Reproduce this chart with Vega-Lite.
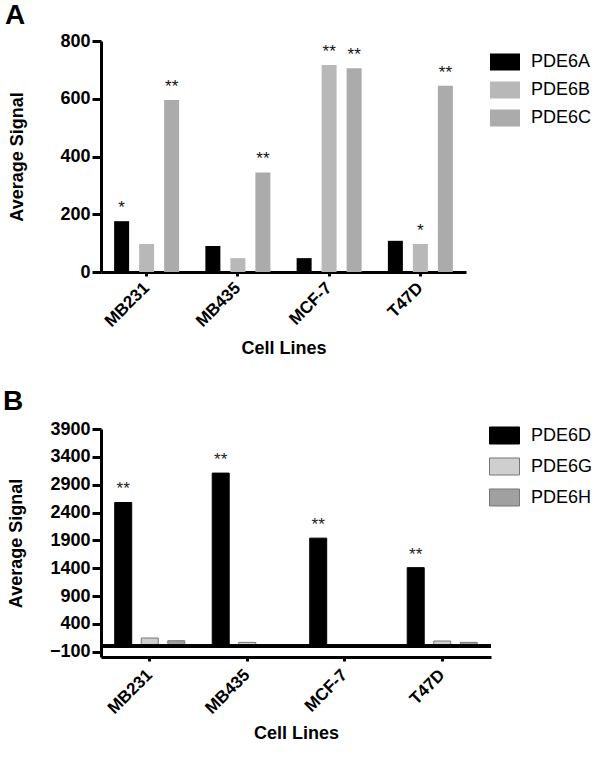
{
  "$schema": "https://vega.github.io/schema/vega-lite/v6.json",
  "background": "white",
  "padding": {"left": 3, "top": 2, "right": 5, "bottom": 3},
  "spacing": 30,
  "config": {
    "font": "Liberation Sans",
    "view": {"stroke": null},
    "axis": {
      "domainColor": "black", "domainWidth": 3, "tickColor": "black", "tickWidth": 3,
      "labelColor": "black", "labelFont": "Liberation Sans", "labelFontWeight": "bold", "labelFontSize": 18,
      "titleFont": "Liberation Sans", "titleFontWeight": "bold", "titleColor": "black", "titleFontSize": 18,
      "grid": false
    },
    "legend": {
      "title": null, "labelFont": "Liberation Sans", "labelFontSize": 18, "labelColor": "black",
      "labelFontWeight": "normal", "symbolType": "M-1,-0.567L1,-0.567L1,0.567L-1,0.567Z",
      "symbolSize": 900, "labelOffset": 11, "rowPadding": 4, "orient": "none"
    }
  },
  "resolve": {"scale": {"fill": "independent", "stroke": "independent", "xOffset": "independent", "x": "independent", "y": "independent"}, "legend": {"fill": "independent", "stroke": "independent"}},
  "vconcat": [
    {
      "title": {"text": "A", "anchor": "start", "frame": "group", "fontSize": 28, "fontWeight": "bold", "font": "Liberation Sans", "dx": -96, "offset": 2, "color": "black"},
      "width": 365,
      "height": 231,
      "data": {"values": [
        {"cell": "MB231", "gene": "PDE6A", "value": 176, "sig": "*"},
        {"cell": "MB231", "gene": "PDE6B", "value": 97, "sig": ""},
        {"cell": "MB231", "gene": "PDE6C", "value": 596, "sig": "**"},
        {"cell": "MB435", "gene": "PDE6A", "value": 90, "sig": ""},
        {"cell": "MB435", "gene": "PDE6B", "value": 48, "sig": ""},
        {"cell": "MB435", "gene": "PDE6C", "value": 345, "sig": "**"},
        {"cell": "MCF-7", "gene": "PDE6A", "value": 48, "sig": ""},
        {"cell": "MCF-7", "gene": "PDE6B", "value": 717, "sig": "**"},
        {"cell": "MCF-7", "gene": "PDE6C", "value": 706, "sig": "**"},
        {"cell": "T47D", "gene": "PDE6A", "value": 108, "sig": ""},
        {"cell": "T47D", "gene": "PDE6B", "value": 97, "sig": "*"},
        {"cell": "T47D", "gene": "PDE6C", "value": 645, "sig": "**"}
      ]},
      "encoding": {
        "x": {"field": "cell", "type": "nominal", "sort": null,
          "scale": {"paddingInner": 0.2, "paddingOuter": 0.1},
          "axis": {"title": "Cell Lines", "labelAngle": -45, "labelAlign": "right", "labelBaseline": "middle", "labelFontSize": 17, "tickSize": 4, "labelPadding": 9, "titlePadding": 10}},
        "xOffset": {"field": "gene", "type": "nominal", "scale": {"paddingInner": 0.4, "paddingOuter": 0.16}},
        "y": {"field": "value", "type": "quantitative",
          "scale": {"domain": [0, 800], "nice": false},
          "axis": {"values": [0, 200, 400, 600, 800], "format": "d", "title": "Average Signal", "tickSize": 9, "labelPadding": 2, "titlePadding": 33}}
      },
      "layer": [
        {
          "mark": {"type": "bar"},
          "encoding": {
            "fill": {"field": "gene", "type": "nominal",
              "scale": {"domain": ["PDE6A", "PDE6B", "PDE6C"], "range": ["#000000", "#b8b8b8", "#ababab"]},
              "legend": {"legendX": 389, "legendY": 6, "symbolStrokeWidth": 0}}
          }
        },
        {
          "mark": {"type": "text", "baseline": "alphabetic", "dy": -8, "fontSize": 17, "font": "Liberation Sans", "color": "#111"},
          "encoding": {"text": {"field": "sig"}}
        }
      ]
    },
    {
      "title": {"text": "B", "anchor": "start", "frame": "group", "fontSize": 28, "fontWeight": "bold", "font": "Liberation Sans", "dx": -98, "offset": 4, "color": "black"},
      "width": 390,
      "height": 228,
      "data": {"values": [
        {"cell": "MB231", "gene": "PDE6D", "value": 2580, "sig": "**"},
        {"cell": "MB231", "gene": "PDE6G", "value": 146, "sig": ""},
        {"cell": "MB231", "gene": "PDE6H", "value": 97, "sig": ""},
        {"cell": "MB435", "gene": "PDE6D", "value": 3108, "sig": "**"},
        {"cell": "MB435", "gene": "PDE6G", "value": 68, "sig": ""},
        {"cell": "MB435", "gene": "PDE6H", "value": 15, "sig": ""},
        {"cell": "MCF-7", "gene": "PDE6D", "value": 1940, "sig": "**"},
        {"cell": "MCF-7", "gene": "PDE6G", "value": 15, "sig": ""},
        {"cell": "MCF-7", "gene": "PDE6H", "value": 15, "sig": ""},
        {"cell": "T47D", "gene": "PDE6D", "value": 1410, "sig": "**"},
        {"cell": "T47D", "gene": "PDE6G", "value": 92, "sig": ""},
        {"cell": "T47D", "gene": "PDE6H", "value": 68, "sig": ""}
      ]},
      "encoding": {
        "x": {"field": "cell", "type": "nominal", "sort": null,
          "scale": {"paddingInner": 0.2, "paddingOuter": 0.1},
          "axis": {"title": "Cell Lines", "labelAngle": -45, "labelAlign": "right", "labelBaseline": "middle", "labelFontSize": 17, "tickSize": 4, "labelPadding": 11, "titlePadding": 8}},
        "xOffset": {"field": "gene", "type": "nominal", "scale": {"paddingInner": 0.36, "paddingOuter": 0.15}},
        "y": {"field": "value", "type": "quantitative",
          "scale": {"domain": [-195, 3900], "nice": false, "zero": false},
          "axis": {"values": [-100, 400, 900, 1400, 1900, 2400, 2900, 3400, 3900], "format": "d", "title": "Average Signal", "tickSize": 9, "labelPadding": 2, "titlePadding": 24}}
      },
      "layer": [
        {
          "mark": {"type": "bar", "strokeWidth": 1},
          "encoding": {
            "y2": {"datum": 0},
            "fill": {"field": "gene", "type": "nominal",
              "scale": {"domain": ["PDE6D", "PDE6G", "PDE6H"], "range": ["#000000", "#cfcfcf", "#a0a0a0"]},
              "legend": {"legendX": 388, "legendY": -9, "symbolStrokeWidth": 1}},
            "stroke": {"field": "gene", "type": "nominal",
              "scale": {"domain": ["PDE6D", "PDE6G", "PDE6H"], "range": ["#000000", "#777777", "#777777"]},
              "legend": {"legendX": 388, "legendY": -9, "symbolStrokeWidth": 1}}
          }
        },
        {
          "mark": {"type": "rule", "strokeWidth": 3, "color": "black"},
          "encoding": {"y": {"datum": 0}, "x": null, "xOffset": null}
        },
        {
          "mark": {"type": "text", "baseline": "alphabetic", "dy": -8, "fontSize": 17, "font": "Liberation Sans", "color": "#222"},
          "encoding": {"text": {"field": "sig"}}
        }
      ]
    }
  ]
}
